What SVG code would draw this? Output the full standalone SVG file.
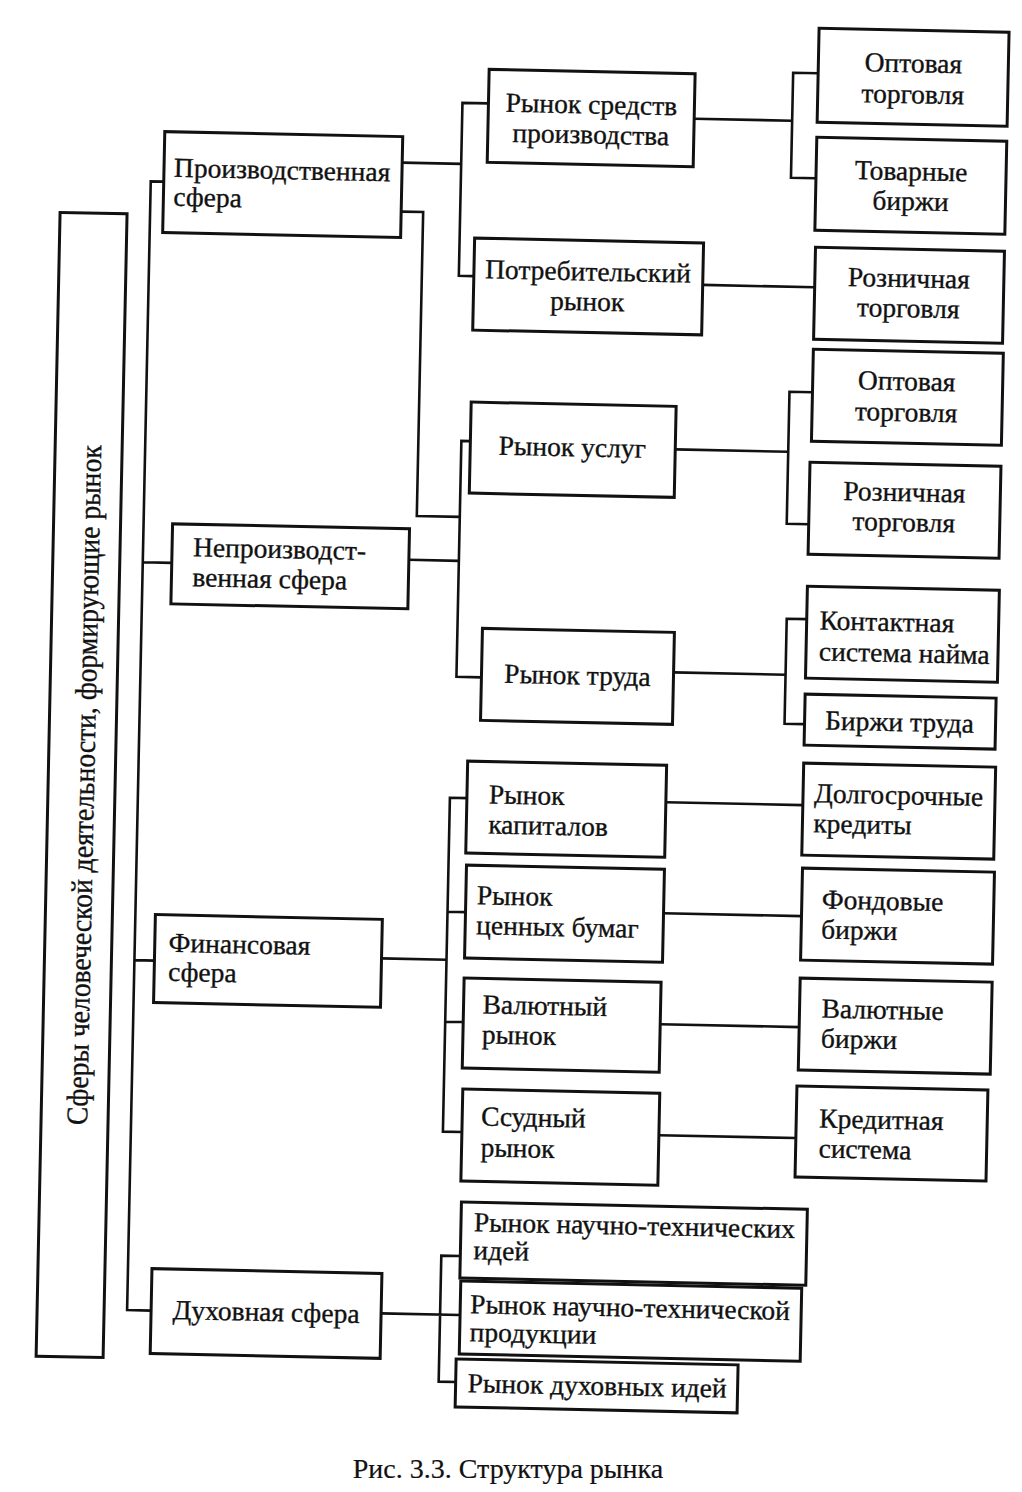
<svg xmlns="http://www.w3.org/2000/svg" width="1022" height="1492" viewBox="0 0 1022 1492">
<style>
.b{fill:#fff;stroke:#111;stroke-width:3}
.c{fill:none;stroke:#111;stroke-width:2.6}
text{font-family:"Liberation Serif","Times New Roman",serif;font-size:27.5px;fill:#111;stroke:#111;stroke-width:0.35}
.m{text-anchor:middle}
</style>
<rect width="1022" height="1492" fill="#fff"/>
<g transform="rotate(1.2 511 746)">
<g id="connectors">
<path class="c" d="M152,189 H139 V1318 H163 M139,570 H168 M139,968 H159"/>
<path class="c" d="M390,165 H449 M475,104 H449 V277 H464"/>
<path class="c" d="M390,214 H412 V518 H455"/>
<path class="c" d="M405,562 H455 M464,442 H455 V678 H480"/>
<path class="c" d="M386,961 H451 M468,799 H451 V1133 H470 M451,913 H469 M451,1023 H469"/>
<path class="c" d="M393,1316 H472 M471,1257 H452 V1383 H469"/>
<path class="c" d="M681,115 H779 M804,67 H779 V172 H804"/>
<path class="c" d="M693,281 H805"/>
<path class="c" d="M669,446 H782 M805,386 H782 V518 H804"/>
<path class="c" d="M672,669 H784 M804,613 H784 V718 H804"/>
<path class="c" d="M667,799 H804 M667,910 H805 M666,1021 H805 M667,1132 H804"/>
</g>
<g id="root"><rect class="b" x="49" y="222" width="67" height="1144"/>
<text class="m" transform="translate(95,794) rotate(-90)" textLength="680" lengthAdjust="spacingAndGlyphs" style="font-size:30px">Сферы человеческой деятельности, формирующие рынок</text></g>
<g id="proizv"><rect class="b" x="152" y="139" width="238" height="101"/><text x="162" y="184">Производственная</text><text x="162" y="213">сфера</text></g>
<g id="neproizv"><rect class="b" x="168" y="531" width="237" height="80"/><text x="189" y="563">Непроизводст-</text><text x="189" y="593">венная сфера</text></g>
<g id="fin"><rect class="b" x="159" y="922" width="227" height="88"/><text x="173" y="959">Финансовая</text><text x="173" y="988">сфера</text></g>
<g id="dukh"><rect class="b" x="163" y="1276" width="230" height="85"/><text class="m" x="278" y="1326">Духовная сфера</text></g>
<g id="rsp"><rect class="b" x="475" y="70" width="206" height="93"/><text class="m" x="578" y="112">Рынок средств</text><text class="m" x="578" y="142">производства</text></g>
<g id="potreb"><rect class="b" x="464" y="239" width="229" height="92"/><text class="m" x="578" y="279">Потребительский</text><text class="m" x="578" y="309">рынок</text></g>
<g id="uslug"><rect class="b" x="464" y="403" width="205" height="91"/><text class="m" x="566" y="455">Рынок услуг</text></g>
<g id="truda"><rect class="b" x="480" y="629" width="192" height="92"/><text class="m" x="576" y="683">Рынок труда</text></g>
<g id="kapital"><rect class="b" x="468" y="762" width="199" height="92"/><text x="490" y="804">Рынок</text><text x="490" y="834">капиталов</text></g>
<g id="cb"><rect class="b" x="469" y="866" width="198" height="93"/><text x="480" y="905">Рынок</text><text x="480" y="935">ценных бумаг</text></g>
<g id="valut"><rect class="b" x="469" y="979" width="197" height="90"/><text x="488" y="1014">Валютный</text><text x="488" y="1044">рынок</text></g>
<g id="ssud"><rect class="b" x="470" y="1090" width="197" height="92"/><text x="489" y="1126">Ссудный</text><text x="489" y="1157">рынок</text></g>
<g id="nti"><rect class="b" x="471" y="1203" width="346" height="76"/><text x="484" y="1232">Рынок научно-технических</text><text x="484" y="1260">идей</text></g>
<g id="ntp"><rect class="b" x="472" y="1282" width="341" height="73"/><text x="482" y="1314">Рынок научно-технической</text><text x="482" y="1342">продукции</text></g>
<g id="dukhi"><rect class="b" x="469" y="1360" width="282" height="48"/><text x="481" y="1393">Рынок духовных идей</text></g>
<g id="opt1"><rect class="b" x="804" y="22" width="190" height="94"/><text class="m" x="899" y="64">Оптовая</text><text class="m" x="899" y="95">торговля</text></g>
<g id="tovar"><rect class="b" x="804" y="131" width="190" height="93"/><text class="m" x="899" y="172">Товарные</text><text class="m" x="899" y="202">биржи</text></g>
<g id="rozn1"><rect class="b" x="805" y="241" width="189" height="92"/><text class="m" x="899" y="279">Розничная</text><text class="m" x="899" y="309">торговля</text></g>
<g id="opt2"><rect class="b" x="805" y="343" width="190" height="92"/><text class="m" x="899" y="382">Оптовая</text><text class="m" x="899" y="413">торговля</text></g>
<g id="rozn2"><rect class="b" x="804" y="456" width="191" height="92"/><text class="m" x="899" y="493">Розничная</text><text class="m" x="899" y="523">торговля</text></g>
<g id="kontakt"><rect class="b" x="804" y="580" width="192" height="92"/><text x="817" y="623">Контактная</text><text x="817" y="654">система найма</text></g>
<g id="birzhi-truda"><rect class="b" x="804" y="688" width="191" height="51"/><text class="m" x="899" y="723">Биржи труда</text></g>
<g id="dolgo"><rect class="b" x="804" y="757" width="192" height="92"/><text x="815" y="796">Долгосрочные</text><text x="815" y="826">кредиты</text></g>
<g id="fond"><rect class="b" x="805" y="862" width="192" height="92"/><text x="825" y="902">Фондовые</text><text x="825" y="932">биржи</text></g>
<g id="valbirzh"><rect class="b" x="805" y="972" width="192" height="92"/><text x="827" y="1011">Валютные</text><text x="827" y="1041">биржи</text></g>
<g id="kredit"><rect class="b" x="804" y="1080" width="191" height="91"/><text x="827" y="1121">Кредитная</text><text x="827" y="1151">система</text></g>
</g>
<text class="m" x="508" y="1478" style="font-size:28px;stroke-width:0.2">Рис. 3.3. Структура рынка</text>
</svg>
